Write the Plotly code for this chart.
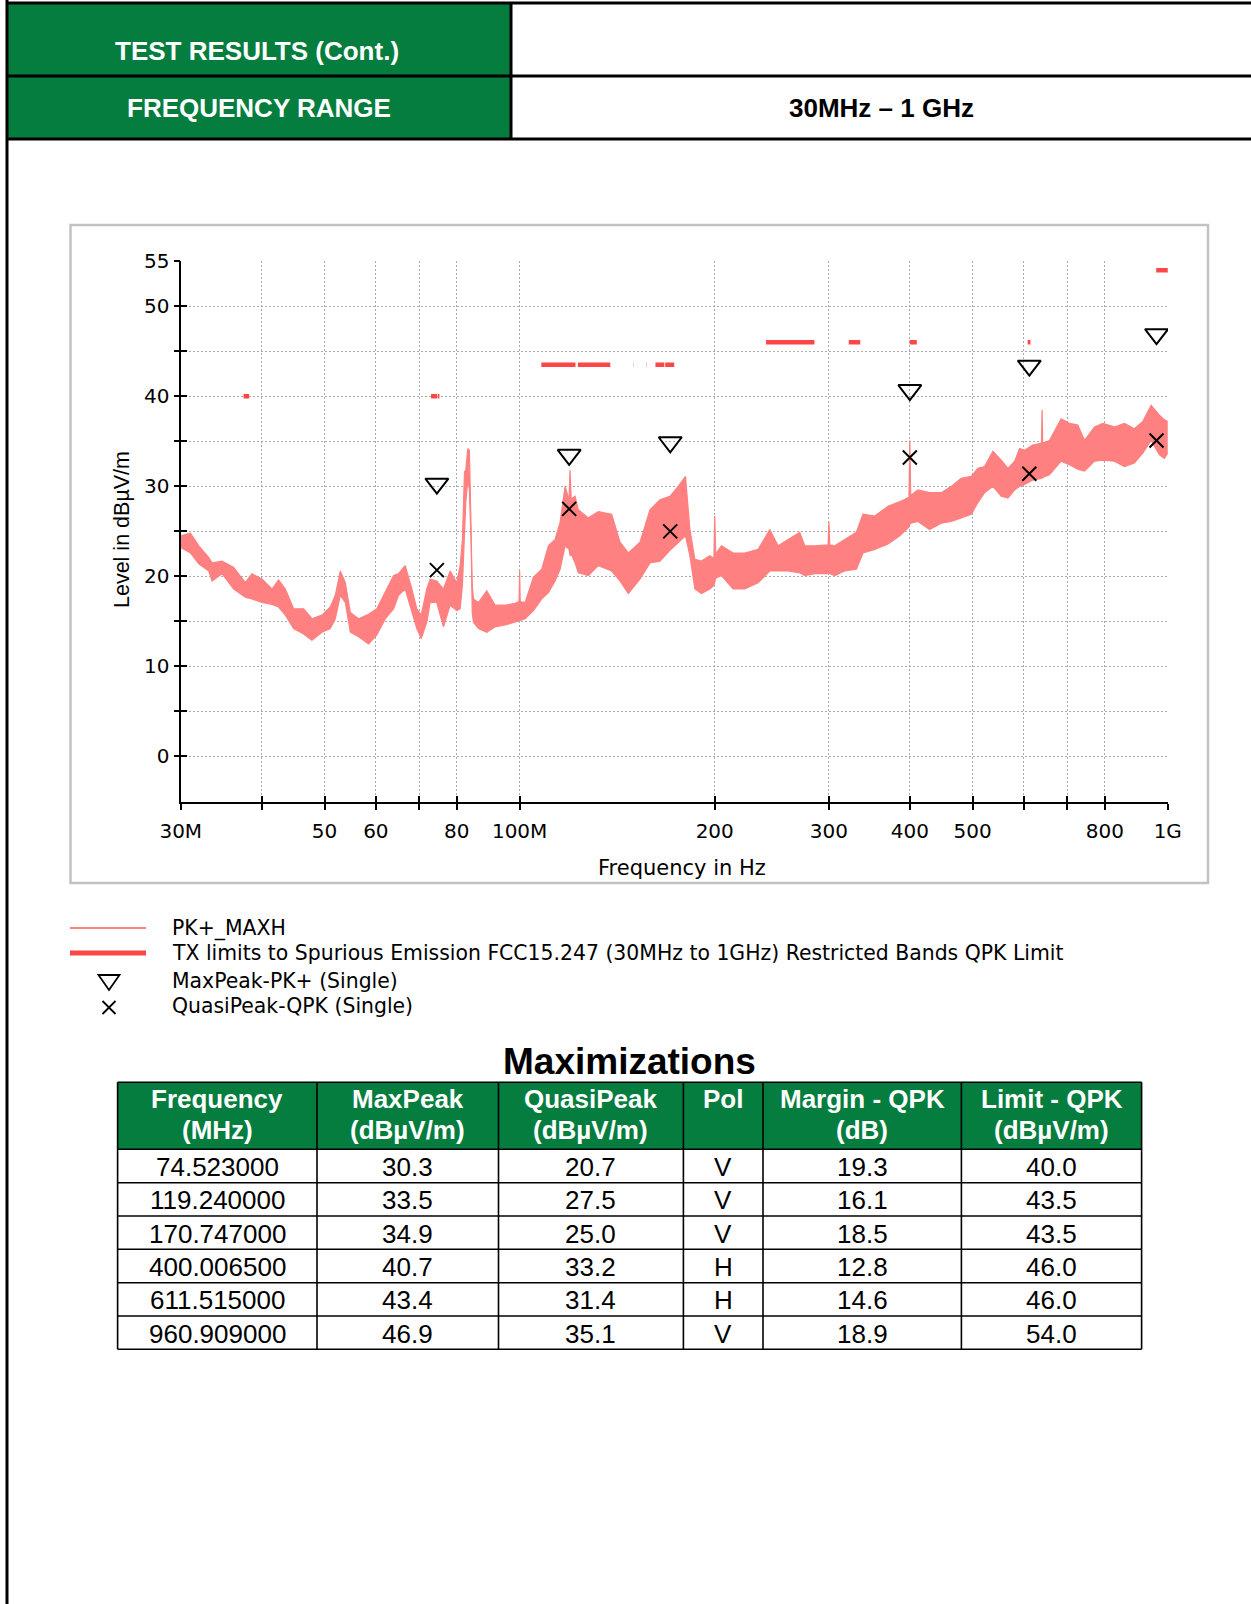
import math
import plotly.graph_objects as go

W, H = 1251, 1604

# PK+ MAXH sweep, upper / lower envelope of the max-hold trace
pk_freq_mhz = [
    30.0, 31.05, 31.98, 33.14, 33.53, 34.74, 36.21, 37.73, 38.63, 40.03,
    41.48, 42.47, 43.50, 44.80, 46.42, 47.81, 49.54, 51.03, 51.95, 52.88,
    53.83, 54.80, 56.43, 58.47, 60.21, 62.06, 63.91, 65.03, 66.59, 68.18,
    69.40, 70.49, 71.90, 72.77, 74.49, 76.29, 78.12, 79.97, 80.94, 81.60,
    82.20, 82.58, 83.17, 83.65, 84.17, 84.50, 84.86, 86.38, 88.97, 91.67,
    94.98, 98.41, 99.80, 100.0, 100.2, 101.97, 105.02, 108.17, 110.76, 113.42,
    115.45, 117.52, 119.20, 119.62, 120.10, 121.77, 123.18, 127.64, 132.27, 138.67,
    142.85, 147.13, 153.35, 158.90, 164.63, 170.57, 175.67, 180.26, 183.11, 186.38,
    190.81, 196.57, 199.4, 200.0, 200.7, 204.84, 213.51, 222.57, 233.33, 243.22,
    250.49, 259.5, 270.5, 275.4, 285.4, 299.2, 300.0, 301.0, 306.4, 317.4,
    330.8, 338.7, 353.1, 370.2, 385.9, 398.8, 400.0, 401.2, 411.7, 429.0,
    447.3, 463.5, 480.1, 497.6, 509.4, 521.6, 537.4, 553.5, 566.8, 580.5,
    590.8, 601.3, 619.1, 638.5, 639.9, 641.3, 656.9, 684.6, 705.2, 726.5,
    744.0, 770.9, 793.9, 827.3, 857.4, 888.3, 915.1, 942.7, 970.9, 988.2,
    1000.0,
]
pk_upper_dbuv = [
    24.5, 24.8, 23.4, 22.1, 21.5, 21.7, 21.0, 19.3, 20.3, 19.7,
    18.6, 19.6, 18.6, 16.4, 16.4, 15.3, 15.7, 16.6, 17.9, 20.6,
    19.3, 16.0, 15.3, 15.8, 16.4, 18.2, 20.1, 20.3, 21.2, 18.6,
    16.4, 15.7, 18.6, 19.7, 19.5, 18.6, 20.6, 19.3, 21.2, 24.0,
    31.6, 31.8, 34.2, 34.0, 25.2, 19.0, 17.5, 17.1, 18.4, 16.8,
    16.8, 17.0, 17.2, 20.6, 17.2, 17.1, 19.9, 20.8, 23.4, 24.1,
    26.0, 30.0, 28.5, 31.8, 28.6, 28.9, 27.4, 26.5, 27.2, 26.9,
    23.8, 22.6, 23.8, 27.4, 28.5, 28.9, 30.0, 31.1, 25.2, 21.9,
    21.7, 22.3, 22.0, 26.7, 22.5, 23.4, 22.6, 22.6, 23.0, 25.2,
    23.4, 24.1, 24.9, 23.4, 23.4, 23.5, 26.1, 23.5, 23.4, 24.1,
    24.9, 26.9, 26.7, 27.8, 28.3, 28.8, 35.1, 29.0, 29.6, 29.3,
    29.3, 30.0, 30.9, 31.1, 32.0, 32.2, 33.9, 32.9, 32.0, 32.8,
    34.2, 34.0, 34.6, 34.8, 38.5, 34.8, 35.1, 37.5, 37.0, 36.8,
    35.1, 36.6, 37.0, 36.6, 37.0, 36.4, 37.2, 39.0, 37.9, 37.4,
    37.2,
]
pk_lower_dbuv = [
    23.2, 22.6, 21.4, 20.6, 19.5, 20.3, 18.6, 17.7, 17.5, 17.1,
    16.9, 16.6, 15.7, 14.2, 13.6, 12.9, 13.8, 14.2, 15.3, 17.9,
    17.1, 13.8, 13.3, 12.5, 13.5, 15.3, 16.4, 17.9, 18.6, 16.2,
    14.2, 13.1, 14.9, 17.1, 17.1, 14.4, 16.8, 16.2, 16.4, 19.0,
    26.0, 28.2, 30.7, 29.6, 23.7, 16.0, 14.9, 14.2, 13.8, 14.4,
    14.6, 14.9, 15.0, 15.0, 15.1, 15.3, 16.2, 17.5, 18.2, 19.5,
    20.8, 23.4, 23.0, 22.3, 22.5, 21.5, 20.4, 20.1, 21.2, 20.6,
    19.5, 18.1, 19.7, 21.5, 21.7, 22.9, 23.8, 24.5, 22.3, 18.6,
    18.1, 18.6, 19.0, 19.5, 19.8, 20.1, 18.6, 18.6, 19.3, 20.6,
    20.6, 20.6, 20.4, 20.1, 20.3, 20.3, 20.4, 20.3, 20.1, 20.6,
    20.8, 22.6, 23.0, 23.6, 24.5, 25.5, 25.8, 25.9, 26.1, 25.2,
    25.9, 26.1, 26.5, 26.9, 28.2, 29.3, 30.0, 28.9, 28.7, 29.6,
    30.0, 30.2, 30.7, 30.9, 30.9, 31.0, 31.3, 32.8, 32.4, 31.9,
    31.7, 32.8, 32.9, 32.8, 32.2, 32.6, 33.7, 35.1, 33.5, 33.1,
    33.7,
]

# Restricted bands (FCC 15.205) with the QPK limit that applies in each
band_start_mhz = [37.5, 73.0, 74.8, 108.0, 123.0, 149.9, 156.52475, 156.7,
                  162.0125, 167.72, 240.0, 322.0, 399.9, 608.0, 960.0]
band_stop_mhz = [38.25, 74.6, 75.2, 121.94, 138.0, 150.05, 156.52525, 156.9,
                 167.17, 173.2, 285.0, 335.4, 410.0, 614.0, 1000.0]
band_limit_dbuv = [40.0, 40.0, 40.0, 43.5, 43.5, 43.5, 43.5, 43.5,
                   43.5, 43.5, 46.0, 46.0, 46.0, 46.0, 54.0]

# Final measurements
max_freq_mhz = [74.523, 119.24, 170.747, 400.0065, 611.515, 960.909]
max_peak = [30.3, 33.5, 34.9, 40.7, 43.4, 46.9]
quasi_peak = [20.7, 27.5, 25.0, 33.2, 31.4, 35.1]
polarization = ["V", "V", "V", "H", "H", "V"]
margin_qpk = [19.3, 16.1, 18.5, 12.8, 14.6, 18.9]
limit_qpk = [40.0, 43.5, 43.5, 46.0, 46.0, 54.0]

x_tick_vals = [30, 40, 50, 60, 70, 80, 100, 200, 300, 400, 500, 600, 700, 800, 1000]
x_tick_text = ["30M", "", "50", "60", "", "80", "100M", "200", "300", "400",
               "500", "", "", "800", "1G"]
y_tick_vals = [0, 5, 10, 15, 20, 25, 30, 35, 40, 45, 50, 55]
y_tick_text = ["0", "", "10", "", "20", "", "30", "", "40", "", "50", "55"]

table_headers = [("Frequency", "(MHz)"), ("MaxPeak", "(dBµV/m)"),
                 ("QuasiPeak", "(dBµV/m)"), ("Pol", ""),
                 ("Margin - QPK", "(dB)"), ("Limit - QPK", "(dBµV/m)")]

GREEN = "#047D3E"
TRACE = "#FF8080"
LIMIT = "#FF4646"
GRID = "#ABABAB"
ARIAL = "Liberation Sans"
CHART_FONT = "DejaVu Sans"

# page geometry (pixels)
PLOT_X0, PLOT_X1 = 180.5, 1168.0
PLOT_Y_TOP, PLOT_Y_BOT = 261.0, 801.5
COL_X = [117.6, 317.0, 498.5, 683.4, 763.0, 961.4, 1141.6]
ROW_Y = [1082.3, 1149.3, 1182.7, 1216.0, 1249.3, 1282.7, 1316.0, 1349.3]


def px(x):
    return x / W


def py(y):
    return 1 - y / H


shapes = []
annotations = []


def rect(x0, y0, x1, y1, fill=None, color=None, width=0, layer="below"):
    shapes.append(dict(type="rect", xref="paper", yref="paper",
                       x0=px(x0), x1=px(x1), y0=py(y1), y1=py(y0),
                       fillcolor=fill, layer=layer,
                       line=dict(color=color or "rgba(0,0,0,0)", width=width)))


def seg(x0, y0, x1, y1, color="black", width=1.5, layer="above"):
    shapes.append(dict(type="line", xref="paper", yref="paper",
                       x0=px(x0), x1=px(x1), y0=py(y0), y1=py(y1), layer=layer,
                       line=dict(color=color, width=width)))


def label(x, y, s, size, color="black", family=ARIAL, bold=False,
          xanchor="center", angle=0):
    annotations.append(dict(xref="paper", yref="paper", x=px(x), y=py(y),
                            text=f"<b>{s}</b>" if bold else s,
                            showarrow=False, xanchor=xanchor, yanchor="middle",
                            textangle=angle,
                            font=dict(family=family, size=size, color=color)))


# ---- page header block ----
rect(7, 3, 511, 75, fill=GREEN)
rect(7, 75, 511, 139, fill=GREEN)
for yy in (3, 76, 139):
    seg(7, yy, W, yy, width=3)
seg(7, 0, 7, H, width=3)
seg(511, 3, 511, 139, width=3)
label(257, 51, "TEST RESULTS (Cont.)", 26, color="white", bold=True)
label(259, 108, "FREQUENCY RANGE", 26, color="white", bold=True)
label(881, 108, "30MHz – 1 GHz", 26, bold=True)

# ---- chart frame ----
rect(70.5, 225, 1208, 883, color="#C2C2C2", width=2.5)

# axis titles
label(122, 530, "Level in dBµV/m", 21.5, angle=-90)
label(682, 868, "Frequency in Hz", 21, family=CHART_FONT)

# ---- legend ----
seg(70, 928, 146, 928, color=TRACE, width=2)
seg(70, 953, 146, 953, color=LIMIT, width=5)
tri = (f"M {px(98.5)},{py(975)} L {px(119.5)},{py(975)} "
       f"L {px(109)},{py(990)} Z")
shapes.append(dict(type="path", xref="paper", yref="paper", path=tri,
                   line=dict(color="black", width=1.8), layer="above"))
seg(102.5, 1001, 115.5, 1014, width=1.8)
seg(102.5, 1014, 115.5, 1001, width=1.8)
legend_rows = ["PK+_MAXH",
               "TX limits to Spurious Emission FCC15.247 (30MHz to 1GHz) "
               "Restricted Bands QPK Limit",
               "MaxPeak-PK+ (Single)",
               "QuasiPeak-QPK (Single)"]
for yy, s in zip((928, 953, 980.5, 1006.5), legend_rows):
    label(170, yy, s, 20.4, family=CHART_FONT, xanchor="left")

# ---- maximizations table ----
label(629, 1061, "Maximizations", 37, bold=True)
rect(COL_X[0], ROW_Y[0], COL_X[-1], ROW_Y[1], fill=GREEN)
for yy in ROW_Y:
    seg(COL_X[0], yy, COL_X[-1], yy, width=1.6)
for xx in COL_X:
    seg(xx, ROW_Y[0], xx, ROW_Y[-1], width=1.6)
col_centers = [(a + b) / 2 for a, b in zip(COL_X[:-1], COL_X[1:])]
for cx, (l1, l2) in zip(col_centers, table_headers):
    label(cx, 1098.5, l1, 26, color="white", bold=True)
    if l2:
        label(cx, 1129.5, l2, 26, color="white", bold=True)
rows = zip(max_freq_mhz, max_peak, quasi_peak, polarization, margin_qpk, limit_qpk)
for i, (f, mp, qp, pol, mg, lim) in enumerate(rows):
    cy = (ROW_Y[i + 1] + ROW_Y[i + 2]) / 2 + 1
    cells = [f"{f:.6f}", f"{mp:.1f}", f"{qp:.1f}", pol, f"{mg:.1f}", f"{lim:.1f}"]
    for cx, s in zip(col_centers, cells):
        label(cx, cy, s, 26)

# ---- traces ----
fig = go.Figure()
fig.add_trace(go.Scatter(x=pk_freq_mhz, y=pk_lower_dbuv, mode="lines",
                         line=dict(color=TRACE, width=1.2), showlegend=False,
                         hoverinfo="skip"))
fig.add_trace(go.Scatter(x=pk_freq_mhz, y=pk_upper_dbuv, mode="lines",
                         line=dict(color=TRACE, width=1.2), fill="tonexty",
                         fillcolor=TRACE, showlegend=False, name="PK+_MAXH"))

lim_x, lim_y = [], []
for a, b, v in zip(band_start_mhz, band_stop_mhz, band_limit_dbuv):
    lim_x += [a, b, None]
    lim_y += [v, v, None]
fig.add_trace(go.Scatter(x=lim_x, y=lim_y, mode="lines", connectgaps=False,
                         line=dict(color=LIMIT, width=4.5), showlegend=False,
                         name="QPK Limit"))

fig.add_trace(go.Scatter(x=max_freq_mhz, y=max_peak, mode="markers",
                         marker=dict(symbol="triangle-down-open", size=20,
                                     color="black", line=dict(width=2, color="black")),
                         showlegend=False, name="MaxPeak-PK+"))
fig.add_trace(go.Scatter(x=max_freq_mhz, y=quasi_peak, mode="markers",
                         marker=dict(symbol="x-thin-open", size=14,
                                     color="black", line=dict(width=2, color="black")),
                         showlegend=False, name="QuasiPeak-QPK"))
# carrier for the companion axes that draw the outward half of each tick
fig.add_trace(go.Scatter(x=[100], y=[20], xaxis="x2", yaxis="y2", mode="markers",
                         marker=dict(opacity=0), showlegend=False, hoverinfo="skip"))

x_range = [math.log10(30) - 0.0004, math.log10(1000) + 0.0004]
y_range = [-5, 55.03]
x_dom = [px(PLOT_X0), px(PLOT_X1)]
y_dom = [py(PLOT_Y_BOT), py(PLOT_Y_TOP)]
tickfont = dict(family=CHART_FONT, size=20, color="black")

fig.update_layout(
    width=W, height=H,
    margin=dict(l=0, r=0, t=0, b=0, pad=0, autoexpand=False),
    paper_bgcolor="white", plot_bgcolor="rgba(0,0,0,0)",
    showlegend=False,
    xaxis=dict(type="log", domain=x_dom, range=x_range, anchor="y",
               automargin=False,
               tickmode="array", tickvals=x_tick_vals, ticktext=x_tick_text,
               ticks="outside", ticklen=6, tickwidth=2, tickcolor="black",
               showline=True, linecolor="black", linewidth=2,
               showgrid=True, gridcolor=GRID, gridwidth=1, griddash="2px,2px",
               zeroline=False, tickfont=tickfont, ticklabelstandoff=4),
    yaxis=dict(domain=y_dom, range=y_range, anchor="x", automargin=False,
               tickmode="array", tickvals=y_tick_vals, ticktext=y_tick_text,
               ticks="inside", ticklen=6, tickwidth=2, tickcolor="black",
               showline=True, linecolor="black", linewidth=2,
               showgrid=True, gridcolor=GRID, gridwidth=1, griddash="2px,2px",
               zeroline=False, tickfont=tickfont, ticklabelstandoff=5),
    xaxis2=dict(type="log", domain=x_dom, range=x_range, overlaying="x",
                anchor="y2", side="bottom", tickmode="array", tickvals=x_tick_vals,
                automargin=False,
                ticks="inside", ticklen=6, tickwidth=2, tickcolor="black",
                showticklabels=False, showgrid=False, showline=False, zeroline=False),
    yaxis2=dict(domain=y_dom, range=y_range, overlaying="y", anchor="x2",
                side="left", tickmode="array", tickvals=y_tick_vals, automargin=False,
                ticks="outside", ticklen=6, tickwidth=2, tickcolor="black",
                showticklabels=False, showgrid=False, showline=False, zeroline=False),
    shapes=shapes, annotations=annotations,
)

fig.write_html("out.html")
